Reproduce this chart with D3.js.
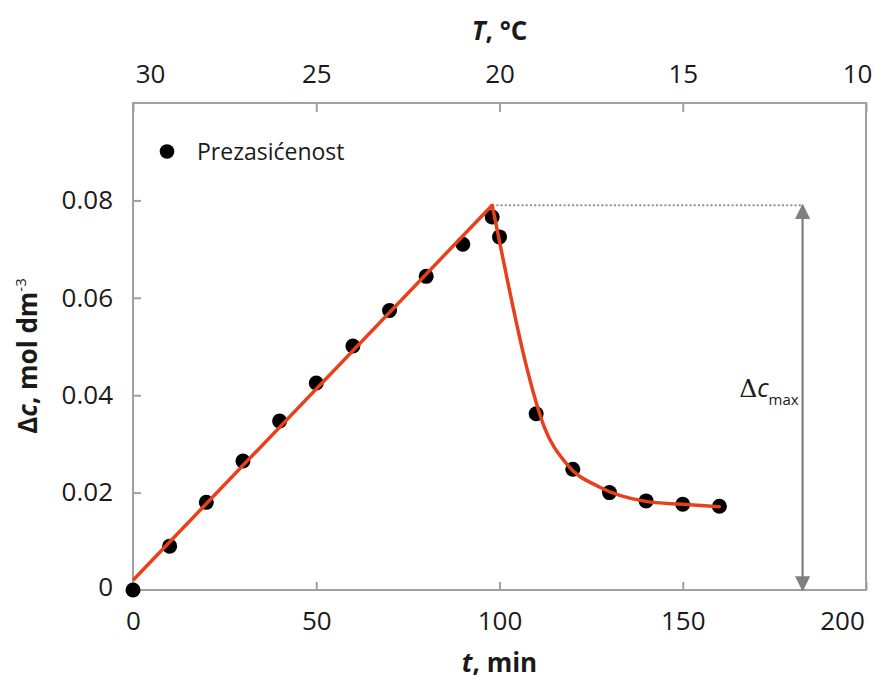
<!DOCTYPE html>
<html><head><meta charset="utf-8">
<script src="https://cdn.jsdelivr.net/npm/d3@7"></script>
<style>
body{margin:0;background:#fff;}
text{font-family:"Open Sans",sans-serif;fill:#1a1a1a;}
</style></head>
<body><svg id="chart" width="875" height="680"></svg>
<script>
// measured points
const timeMin = [0,10,20,30,40,50,60,70,80,90,98,100,110,120,130,140,150,160];
const supersat = [0,0.0090,0.0180,0.0265,0.0347,0.0425,0.0501,0.0574,0.0644,0.0710,0.0766,0.0725,0.0362,0.0248,0.0200,0.0183,0.0176,0.0172];
// fitted line (linear rise) and decay curve
const riseT = [0,98];
const riseV = [0.0020,0.0790];
const decayT = [98,99.7,102.9,107,112.2,118.3,127.4,139.9,149.9,160];
const decayV = [0.0790,0.0727,0.0609,0.0470,0.0335,0.0259,0.0211,0.0182,0.0176,0.0171];
// axes
const xTicks = [0,50,100,150,200];
const yTicks = [0,0.02,0.04,0.06,0.08];
const yTickLabels = ["0","0.02","0.04","0.06","0.08"];
const tempTicks = [30,25,20,15,10];
const peakT = 98, peakV = 0.0790;
const arrowT = 182.7;

const svg = d3.select("#chart");
const m = {left:133, top:103, right:9, bottom:90};
const W = 875 - m.left - m.right, H = 680 - m.top - m.bottom;
const x = d3.scaleLinear().domain([0,200]).range([0,W]);
const y = d3.scaleLinear().domain([0,0.1]).range([H,0]);
const xT = d3.scaleLinear().domain([30,10]).range([0,W]);
const g = svg.append("g").attr("transform",`translate(${m.left},${m.top})`);
const axisCol = "#a0a0a0";

// frame
g.append("rect").attr("x",0).attr("y",0).attr("width",W).attr("height",H)
  .attr("fill","none").attr("stroke",axisCol).attr("stroke-width",2);

// bottom axis
const xa = g.append("g").attr("transform",`translate(0,${H})`)
  .call(d3.axisBottom(x).tickValues(xTicks).tickSize(-8).tickPadding(22).tickFormat(d3.format("d")));
// left axis
const ya = g.append("g")
  .call(d3.axisLeft(y).tickValues(yTicks).tickSize(-8).tickPadding(20).tickFormat((d,i)=>yTickLabels[i]));
// top axis
const ta = g.append("g")
  .call(d3.axisTop(xT).tickValues(tempTicks).tickSize(-9).tickPadding(20).tickFormat(d3.format("d")));
[xa,ya,ta].forEach(a=>{
  a.select(".domain").remove();
  a.selectAll(".tick line").attr("stroke",axisCol).attr("stroke-width",2);
  a.selectAll(".tick text").style("font-size","26px").attr("fill","#1a1a1a")
   .style("font-family","'Open Sans',sans-serif");
});
xa.selectAll(".tick text").attr("dy","0.71em");
xa.selectAll(".tick text").filter(d=>d===200).attr("x",-24);
ya.selectAll(".tick text").filter(d=>d===0).attr("dy","0.22em");
ta.selectAll(".tick text").attr("y",-(m.top-74)).attr("dy","0.35em");
ta.selectAll(".tick text").filter(d=>d===30).attr("x",17);
ta.selectAll(".tick text").filter(d=>d===10).attr("x",-9);

// axis titles
const xt = svg.append("text").attr("x",m.left+x(100)).attr("y",672).attr("text-anchor","middle")
  .style("font-size","26px").style("font-weight","bold");
xt.append("tspan").style("font-style","italic").text("t");
xt.append("tspan").text(", min");

const tt = svg.append("text").attr("x",m.left+x(100)).attr("y",40).attr("text-anchor","middle")
  .style("font-size","26px").style("font-weight","bold");
tt.append("tspan").style("font-style","italic").text("T");
tt.append("tspan").text(", °C");

const yt = svg.append("text").attr("transform","translate(37,356) rotate(-90)")
  .attr("text-anchor","middle").style("font-size","26px").style("font-weight","bold");
yt.append("tspan").text("Δ");
yt.append("tspan").style("font-style","italic").text("c");
yt.append("tspan").text(", mol dm");
yt.append("tspan").attr("dy","-11").style("font-size","15px").style("font-weight","normal").text("-3");

// dotted line and double arrow
g.append("line").attr("x1",x(peakT)).attr("x2",x(arrowT)).attr("y1",y(peakV)).attr("y2",y(peakV))
  .attr("stroke","#909090").attr("stroke-width",2).attr("stroke-dasharray","2,2.2");
const defs = svg.append("defs");
defs.append("marker").attr("id","ah").attr("viewBox","0 0 10 10").attr("refX",9).attr("refY",5)
  .attr("markerWidth",7).attr("markerHeight",7).attr("orient","auto-start-reverse")
  .attr("markerUnits","strokeWidth")
  .append("path").attr("d","M0,0 L10,5 L0,10 Z").attr("fill","#808080");
g.append("line").attr("x1",x(arrowT)).attr("x2",x(arrowT)).attr("y1",y(peakV)).attr("y2",y(0))
  .attr("stroke","#808080").attr("stroke-width",2.2)
  .attr("marker-start","url(#ah)").attr("marker-end","url(#ah)");
const ct = svg.append("text").attr("x",m.left+x(arrowT)-4).attr("y",397).attr("text-anchor","end")
  .style("font-size","25px");
ct.append("tspan").style("font-family","'DejaVu Serif',serif").style("font-weight","normal").text("Δ");
ct.append("tspan").style("font-style","italic").text("c");
ct.append("tspan").attr("dy","8").style("font-size","15px").text("max");

// points
g.selectAll("circle.pt").data(timeMin.map((t,i)=>[t,supersat[i]])).enter().append("circle")
  .attr("class","pt").attr("cx",d=>x(d[0])).attr("cy",d=>y(d[1])).attr("r",7.5).attr("fill","#000");

// fitted lines
const lineCol = "#e8401a";
const ln = d3.line().x(d=>x(d[0])).y(d=>y(d[1]));
g.append("path").datum(riseT.map((t,i)=>[t,riseV[i]])).attr("d",ln)
  .attr("fill","none").attr("stroke",lineCol).attr("stroke-width",3.5);
g.append("path").datum(decayT.map((t,i)=>[t,decayV[i]])).attr("d",ln.curve(d3.curveMonotoneX))
  .attr("fill","none").attr("stroke",lineCol).attr("stroke-width",3.5).attr("stroke-linecap","round");

// legend
svg.append("circle").attr("cx",167).attr("cy",151.5).attr("r",7.3).attr("fill","#000");
svg.append("text").attr("x",197).attr("y",160).style("font-size","23px").text("Prezasićenost");
</script></body></html>
